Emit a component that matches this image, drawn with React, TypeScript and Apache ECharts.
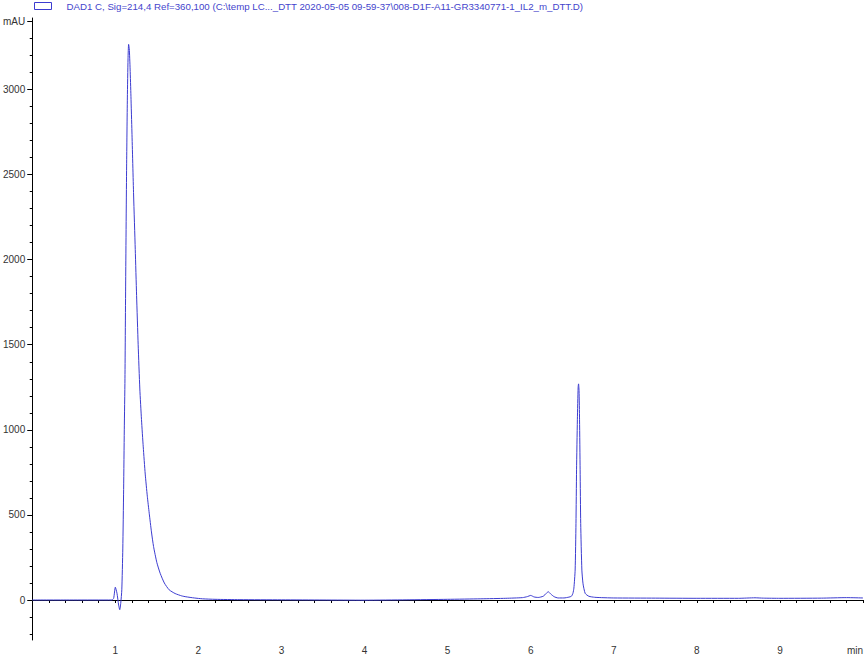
import { useEffect, useRef } from "react";
import * as echarts from "echarts";

// Retention time (min) and absorbance (mAU)
const times = [
  0, 0.5, 0.96, 0.98, 1.0, 1.02, 1.04, 1.053, 1.065, 1.078, 1.09, 1.1, 1.108, 1.116, 1.125, 1.136, 1.145,
  1.153, 1.16, 1.168, 1.178, 1.188, 1.2, 1.22, 1.24, 1.256, 1.275, 1.295, 1.315, 1.336, 1.36, 1.385, 1.408,
  1.435, 1.46, 1.5, 1.54, 1.59, 1.648, 1.72, 1.8, 1.85, 1.95, 2.05, 2.2, 2.5, 3.0, 3.5, 4.0, 4.5, 5.0, 5.4,
  5.7, 5.9, 5.96, 6.0, 6.04, 6.09, 6.15, 6.19, 6.21, 6.24, 6.28, 6.33, 6.4, 6.46, 6.49, 6.508, 6.52, 6.535,
  6.545, 6.552, 6.562, 6.571, 6.576, 6.582, 6.588, 6.595, 6.602, 6.616, 6.63, 6.656, 6.7, 6.77, 6.85, 7.0,
  7.5, 8.0, 8.5, 8.7, 8.8, 9.0, 9.5, 9.8, 10.0,
];
const absorbance = [
  0, 0, 0, 10, 75, 40, -30, -57, -20, 60, 300, 650, 1000, 1300, 1900, 2550, 2950,
  3180, 3265, 3240, 3120, 2960, 2750, 2380, 2060, 1790, 1500, 1240, 1060, 900, 740, 610, 510,
  400, 315, 220, 157, 100, 60, 38, 24, 19, 12, 7, 4, 2, 1, 0, -1, 1, 4, 7,
  10, 14, 20, 27, 18, 15, 22, 40, 49, 36, 20, 12, 12, 17, 22, 39, 70, 176,
  450, 765, 1059, 1250, 1270, 1230, 1059, 765, 450, 176, 95, 39, 22, 16, 14, 12,
  11, 10, 10, 13, 11, 10, 11, 14, 12,
];

const xLabels = [1, 2, 3, 4, 5, 6, 7, 8, 9, 10];
const yMajor = [0, 500, 1000, 1500, 2000, 2500, 3000, 3400];
const yMinor = [
  -200, -100, 100, 200, 300, 400, 600, 700, 800, 900, 1100, 1200, 1300, 1400, 1600, 1700, 1800, 1900,
  2100, 2200, 2300, 2400, 2600, 2700, 2800, 2900, 3100, 3200, 3300,
];

const seriesName =
  "DAD1 C, Sig=214,4 Ref=360,100 (C:\\temp LC..._DTT 2020-05-05 09-59-37\\008-D1F-A11-GR3340771-1_IL2_m_DTT.D)";

const traceColor = "#3c3cd0";
const font = "'Liberation Sans', Arial, sans-serif";

export default function App() {
  const ref = useRef<HTMLDivElement>(null);

  useEffect(() => {
    if (!ref.current) return;
    const chart = echarts.init(ref.current, null, { renderer: "svg" });

    const yBase = {
      type: "value" as const,
      min: -235,
      max: 3420,
      splitLine: { show: false },
    };

    chart.setOption({
      animation: false,
      backgroundColor: "#ffffff",
      textStyle: { fontFamily: font },
      legend: {
        left: 29,
        top: -4,
        itemWidth: 17,
        itemHeight: 7,
        data: [{ name: seriesName, icon: "rect" }],
        itemStyle: { color: "rgba(0,0,0,0)", borderColor: traceColor, borderWidth: 1 },
        textStyle: { color: "#4444cc", fontSize: 9.7, fontFamily: font, padding: [0, 0, 0, 10] },
        selectedMode: false,
      },
      grid: { left: 32, right: 0, top: 18, bottom: 15 },
      xAxis: {
        type: "value",
        min: 0,
        max: 10,
        interval: 1,
        axisLine: { lineStyle: { color: "#000", width: 1 } },
        axisTick: { show: true, length: 3, lineStyle: { color: "#000" } },
        minorTick: { show: true, splitNumber: 5, length: 3, lineStyle: { color: "#000" } },
        axisLabel: {
          customValues: xLabels,
          color: "#333",
          fontSize: 10,
          margin: 5,
          alignMaxLabel: "right",
          formatter: (v: number) => (v === 10 ? "min" : String(v)),
        },
        splitLine: { show: false },
      },
      yAxis: [
        {
          ...yBase,
          axisLine: { show: true, lineStyle: { color: "#000", width: 1 } },
          axisTick: { show: true, length: 5, customValues: yMajor, lineStyle: { color: "#000" } },
          axisLabel: {
            customValues: yMajor,
            color: "#333",
            fontSize: 10,
            margin: 7,
            formatter: (v: number) => (v === 3400 ? "mAU" : String(v)),
          },
        },
        {
          ...yBase,
          position: "left",
          axisLine: { show: false },
          axisTick: { show: true, length: 2.5, customValues: yMinor, lineStyle: { color: "#000" } },
          axisLabel: { show: false },
        },
      ],
      series: [
        {
          name: seriesName,
          type: "line",
          data: times.map((t, i) => [t, absorbance[i]]),
          showSymbol: false,
          smooth: 0.2,
          lineStyle: { color: traceColor, width: 1 },
          itemStyle: { color: traceColor },
        },
      ],
    });

    return () => chart.dispose();
  }, []);

  return (
    <div
      ref={ref}
      style={{ position: "fixed", left: 0, top: 0, width: 866, height: 655, background: "#fff" }}
    />
  );
}
